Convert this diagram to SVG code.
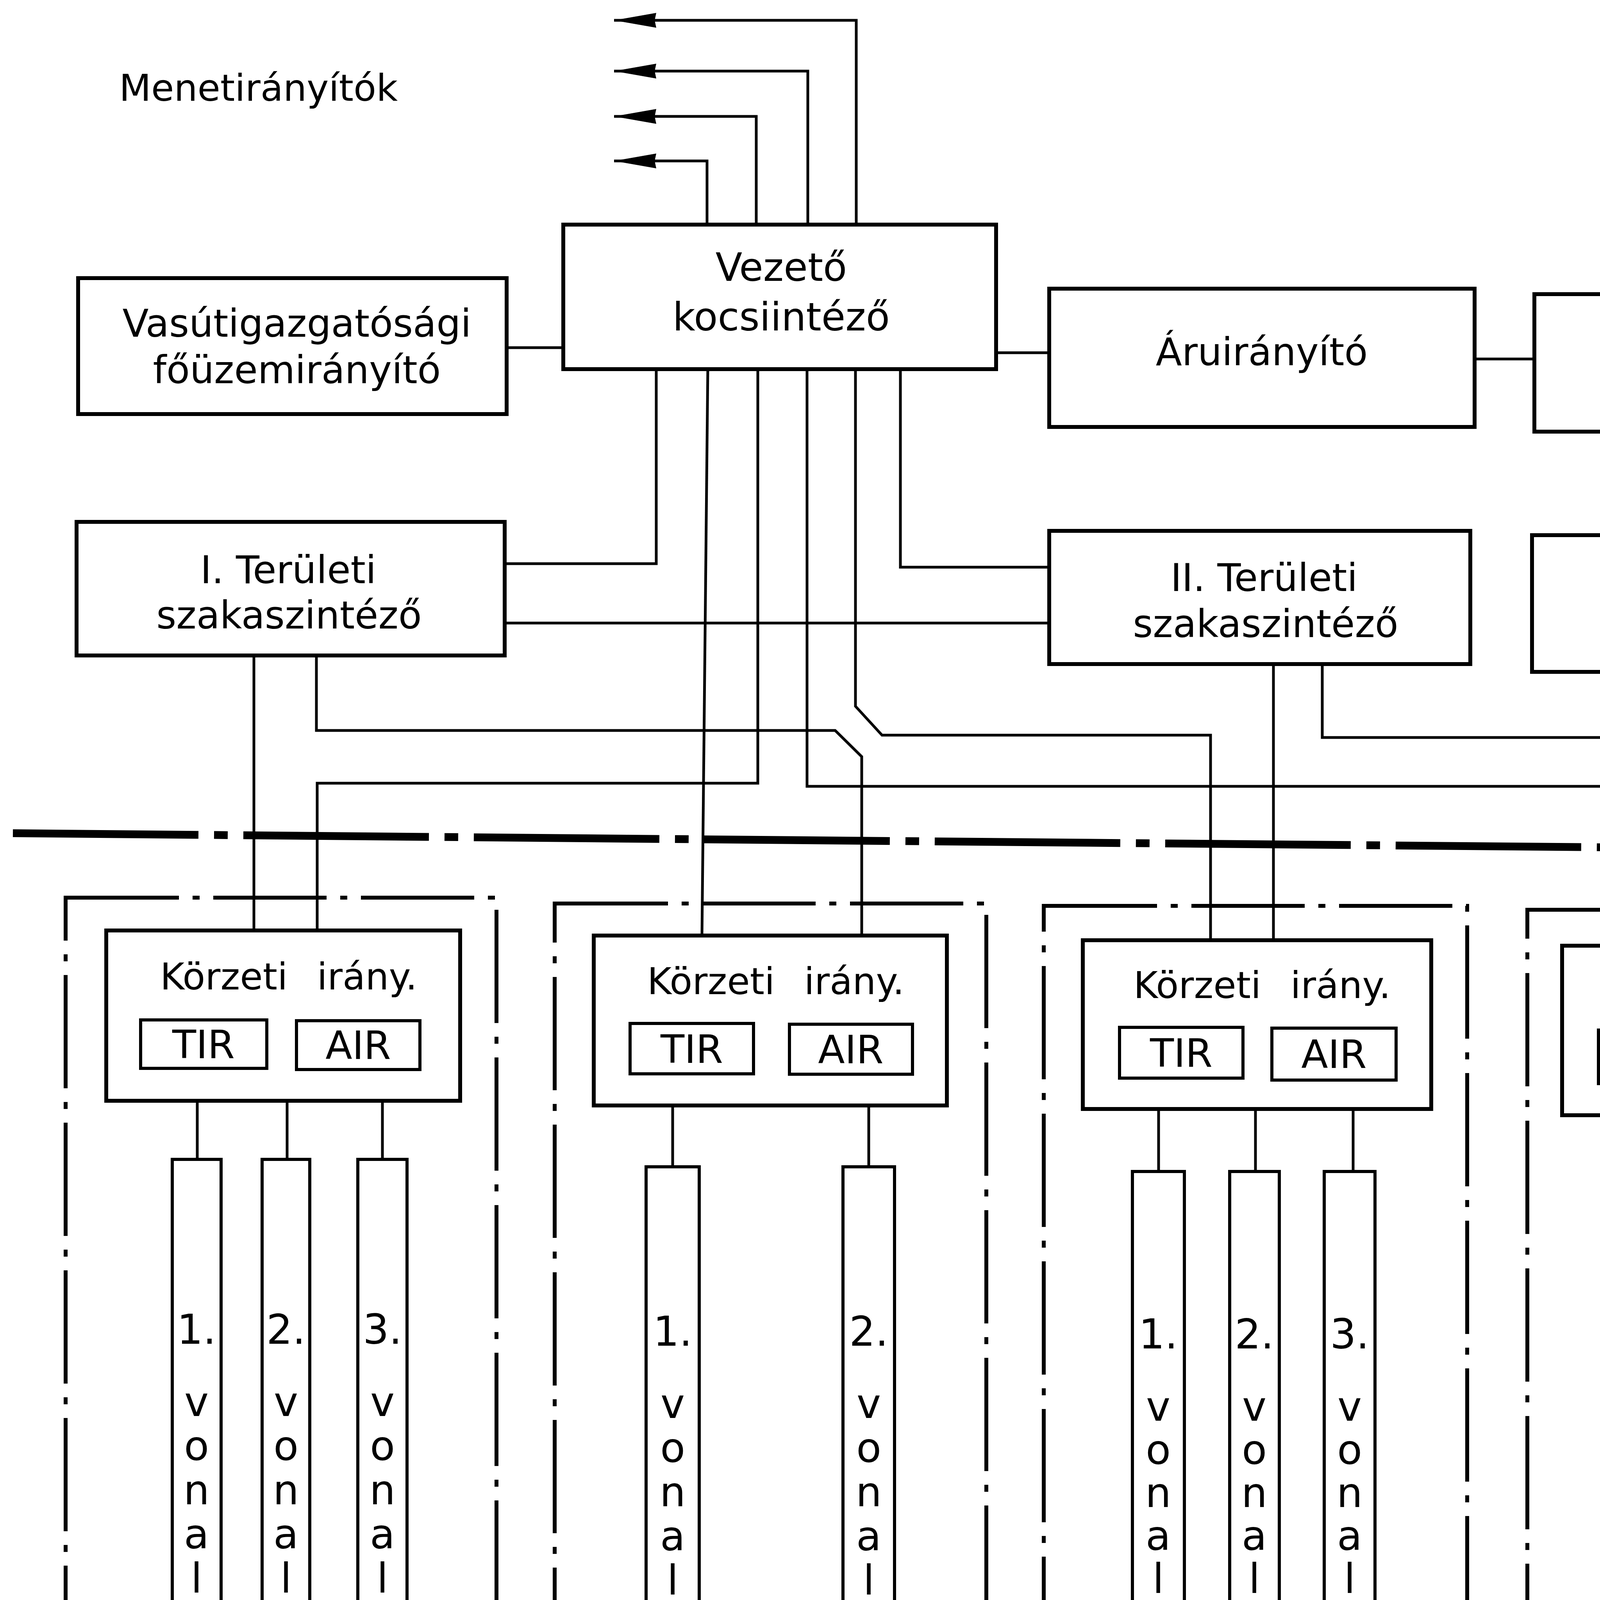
<svg xmlns="http://www.w3.org/2000/svg" width="5109" height="4759" viewBox="0 0 5109 4759">
<style>
.box{fill:none;stroke:#000;stroke-width:10}
.tb{fill:none;stroke:#000;stroke-width:8}
.ln{fill:none;stroke:#000;stroke-width:7;stroke-linejoin:miter}
.t{font-family:"DejaVu Sans","Liberation Sans",sans-serif;font-size:98px;text-anchor:middle;fill:#000}
.k{font-size:95px;word-spacing:45px}
.s{font-size:100px}
.v{font-size:105px}
.enc{fill:none;stroke:#000;stroke-width:10;stroke-dasharray:290 35 18 35}
.axis{fill:none;stroke:#000;stroke-width:20;stroke-dasharray:475 40 35 40}
</style>
<defs>
<marker id="arr" markerUnits="userSpaceOnUse" orient="auto" refX="0" refY="0" overflow="visible">
<path d="M0,0 L-108,-19 L-104,0 L-108,19 Z" fill="#000"/>
</marker>
</defs>
<rect width="5109" height="4759" fill="#fff"/>

<text class="t" x="305" y="258" style="text-anchor:start;font-size:95px">Menetirányítók</text>

<g id="connectors">
<path class="ln" d="M2192,575 V52 H1572" marker-end="url(#arr)"/>
<path class="ln" d="M2068,575 V182 H1572" marker-end="url(#arr)"/>
<path class="ln" d="M1936,575 V298 H1572" marker-end="url(#arr)"/>
<path class="ln" d="M1810,575 V412 H1572" marker-end="url(#arr)"/>
<path class="ln" d="M1297,890 H1442"/>
<path class="ln" d="M2550,903 H2686"/>
<path class="ln" d="M3775,919 H3928"/>
<path class="ln" d="M4444,1105 V1370"/>
<path class="ln" d="M1680,945 V1443 H1292"/>
<path class="ln" d="M1812,945 L1797,2395"/>
<path class="ln" d="M1940,945 V2005 H812 V2382"/>
<path class="ln" d="M2066,945 V2013 H4328 V2421"/>
<path class="ln" d="M2190,945 V1808 L2258,1882 H3099 V2407"/>
<path class="ln" d="M2305,945 V1452 H2686"/>
<path class="ln" d="M1292,1595 H2686"/>
<path class="ln" d="M650,1678 V2382"/>
<path class="ln" d="M810,1678 V1870 H2138 L2206,1937 V2395"/>
<path class="ln" d="M3260,1700 V2407"/>
<path class="ln" d="M3385,1700 V1888 H4520 V2421"/>
<path class="ln" d="M505,2818 V2968 M735,2818 V2968 M979,2818 V2968"/>
<path class="ln" d="M1722,2830 V2987 M2224,2830 V2987"/>
<path class="ln" d="M2966,2839 V2999 M3214,2839 V2999 M3464,2839 V2999"/>
<path class="ln" d="M4203,2855 V3004 M4700,2855 V3004"/>
</g>

<path class="axis" d="M33,2133 L5109,2178"/>

<g id="vezeto">
<rect class="box" x="1442" y="575" width="1108" height="370"/>
<text class="t" x="2000" y="719" style="font-size:100px">Vezető</text>
<text class="t" x="2000" y="846" style="font-size:100px">kocsiintéző</text>
</g>
<g id="vasut">
<rect class="box" x="200" y="712" width="1097" height="348"/>
<text class="t" x="760" y="862">Vasútigazgatósági</text>
<text class="t" x="760" y="981">főüzemirányító</text>
</g>
<g id="aru">
<rect class="box" x="2686" y="739" width="1089" height="354"/>
<text class="t" x="3230" y="935">Áruirányító</text>
</g>
<g id="tartaly">
<rect class="box" x="3928" y="753" width="1076" height="352"/>
<text class="t" x="4440" y="902">Tartálykocsi</text>
<text class="t" x="4455" y="1028">irányító</text>
</g>
<g id="adat">
<rect class="box" x="3922" y="1370" width="1082" height="350"/>
<text class="t" x="4478" y="1582">Adatgyűjtő</text>
</g>
<g id="terulet1">
<rect class="box" x="196" y="1336" width="1096" height="342"/>
<text class="t" x="738" y="1493">I. Területi</text>
<text class="t" x="740" y="1609">szakaszintéző</text>
</g>
<g id="terulet2">
<rect class="box" x="2686" y="1359" width="1078" height="341"/>
<text class="t" x="3236" y="1513">II. Területi</text>
<text class="t" x="3240" y="1631">szakaszintéző</text>
</g>

<g id="korzet1">
<rect class="enc" x="168" y="2298" width="1103" height="2165"/>
<rect class="box" x="272" y="2382" width="906" height="436"/>
<text class="t k" x="739" y="2533">Körzeti irány.</text>
<rect class="tb" x="360" y="2611" width="323" height="124"/>
<text class="t s" x="521" y="2709">TIR</text>
<rect class="tb" x="759" y="2613" width="316" height="125"/>
<text class="t s" x="917" y="2711">AIR</text>
<rect class="tb" x="441" y="2968" width="125" height="1407"/>
<rect class="tb" x="671" y="2968" width="122" height="1407"/>
<rect class="tb" x="916" y="2968" width="126" height="1407"/>
<text class="t v"><tspan x="503" y="3440">1.</tspan><tspan x="503" y="3625">v</tspan><tspan x="503" y="3738">o</tspan><tspan x="503" y="3851">n</tspan><tspan x="503" y="3964">a</tspan><tspan x="503" y="4077">l</tspan></text>
<text class="t v"><tspan x="732" y="3440">2.</tspan><tspan x="732" y="3625">v</tspan><tspan x="732" y="3738">o</tspan><tspan x="732" y="3851">n</tspan><tspan x="732" y="3964">a</tspan><tspan x="732" y="4077">l</tspan></text>
<text class="t v"><tspan x="979" y="3440">3.</tspan><tspan x="979" y="3625">v</tspan><tspan x="979" y="3738">o</tspan><tspan x="979" y="3851">n</tspan><tspan x="979" y="3964">a</tspan><tspan x="979" y="4077">l</tspan></text>
</g>

<g id="korzet2">
<rect class="enc" x="1420" y="2313" width="1105" height="2158"/>
<rect class="box" x="1520" y="2395" width="904" height="435"/>
<text class="t k" x="1986" y="2545">Körzeti irány.</text>
<rect class="tb" x="1613" y="2620" width="316" height="129"/>
<text class="t s" x="1771" y="2721">TIR</text>
<rect class="tb" x="2021" y="2622" width="315" height="128"/>
<text class="t s" x="2178" y="2722">AIR</text>
<rect class="tb" x="1654" y="2987" width="136" height="1406"/>
<rect class="tb" x="2158" y="2987" width="132" height="1406"/>
<text class="t v"><tspan x="1722" y="3445">1.</tspan><tspan x="1722" y="3630">v</tspan><tspan x="1722" y="3743">o</tspan><tspan x="1722" y="3856">n</tspan><tspan x="1722" y="3969">a</tspan><tspan x="1722" y="4082">l</tspan></text>
<text class="t v"><tspan x="2224" y="3445">2.</tspan><tspan x="2224" y="3630">v</tspan><tspan x="2224" y="3743">o</tspan><tspan x="2224" y="3856">n</tspan><tspan x="2224" y="3969">a</tspan><tspan x="2224" y="4082">l</tspan></text>
</g>

<g id="korzet3">
<rect class="enc" x="2672" y="2319" width="1084" height="2162"/>
<rect class="box" x="2772" y="2407" width="892" height="432"/>
<text class="t k" x="3231" y="2555">Körzeti irány.</text>
<rect class="tb" x="2866" y="2630" width="316" height="130"/>
<text class="t s" x="3024" y="2731">TIR</text>
<rect class="tb" x="3256" y="2632" width="318" height="133"/>
<text class="t s" x="3415" y="2734">AIR</text>
<rect class="tb" x="2899" y="2999" width="133" height="1402"/>
<rect class="tb" x="3148" y="2999" width="127" height="1402"/>
<rect class="tb" x="3390" y="2999" width="130" height="1402"/>
<text class="t v"><tspan x="2965" y="3452">1.</tspan><tspan x="2965" y="3637">v</tspan><tspan x="2965" y="3748">o</tspan><tspan x="2965" y="3858">n</tspan><tspan x="2965" y="3968">a</tspan><tspan x="2965" y="4078">l</tspan></text>
<text class="t v"><tspan x="3211" y="3452">2.</tspan><tspan x="3211" y="3637">v</tspan><tspan x="3211" y="3748">o</tspan><tspan x="3211" y="3858">n</tspan><tspan x="3211" y="3968">a</tspan><tspan x="3211" y="4078">l</tspan></text>
<text class="t v"><tspan x="3455" y="3452">3.</tspan><tspan x="3455" y="3637">v</tspan><tspan x="3455" y="3748">o</tspan><tspan x="3455" y="3858">n</tspan><tspan x="3455" y="3968">a</tspan><tspan x="3455" y="4078">l</tspan></text>
</g>

<g id="korzet4">
<rect class="enc" x="3910" y="2329" width="1088" height="2162"/>
<rect class="box" x="3999" y="2421" width="894" height="434"/>
<text class="t k" x="4460" y="2562">Körzeti irány.</text>
<rect class="tb" x="4092" y="2637" width="314" height="137"/>
<text class="t s" x="4249" y="2741">TIR</text>
<rect class="tb" x="4494" y="2645" width="306" height="133"/>
<text class="t s" x="4647" y="2746">AIR</text>
<rect class="tb" x="4136" y="3004" width="130" height="1410"/>
<rect class="tb" x="4636" y="3004" width="125" height="1412"/>
<text class="t v"><tspan x="4201" y="3455">1.</tspan><tspan x="4201" y="3645">v</tspan><tspan x="4201" y="3755">o</tspan><tspan x="4201" y="3865">n</tspan><tspan x="4201" y="3975">a</tspan><tspan x="4201" y="4085">l</tspan></text>
<text class="t v"><tspan x="4698" y="3455">2.</tspan><tspan x="4698" y="3645">v</tspan><tspan x="4698" y="3755">o</tspan><tspan x="4698" y="3865">n</tspan><tspan x="4698" y="3975">a</tspan><tspan x="4698" y="4085">l</tspan></text>
</g>

<g id="code">
<rect class="box" x="4343" y="4572" width="662" height="178"/>
<text x="4380" y="4717" textLength="594" lengthAdjust="spacingAndGlyphs" style="font-family:'Liberation Sans',Arial,sans-serif;font-size:168px;fill:#000">H586-10</text>
</g>
<text x="90" y="4743" style="font-family:'Liberation Serif','Times New Roman',serif;font-style:italic;font-size:90px;fill:#000">10. ábra</text>
</svg>
